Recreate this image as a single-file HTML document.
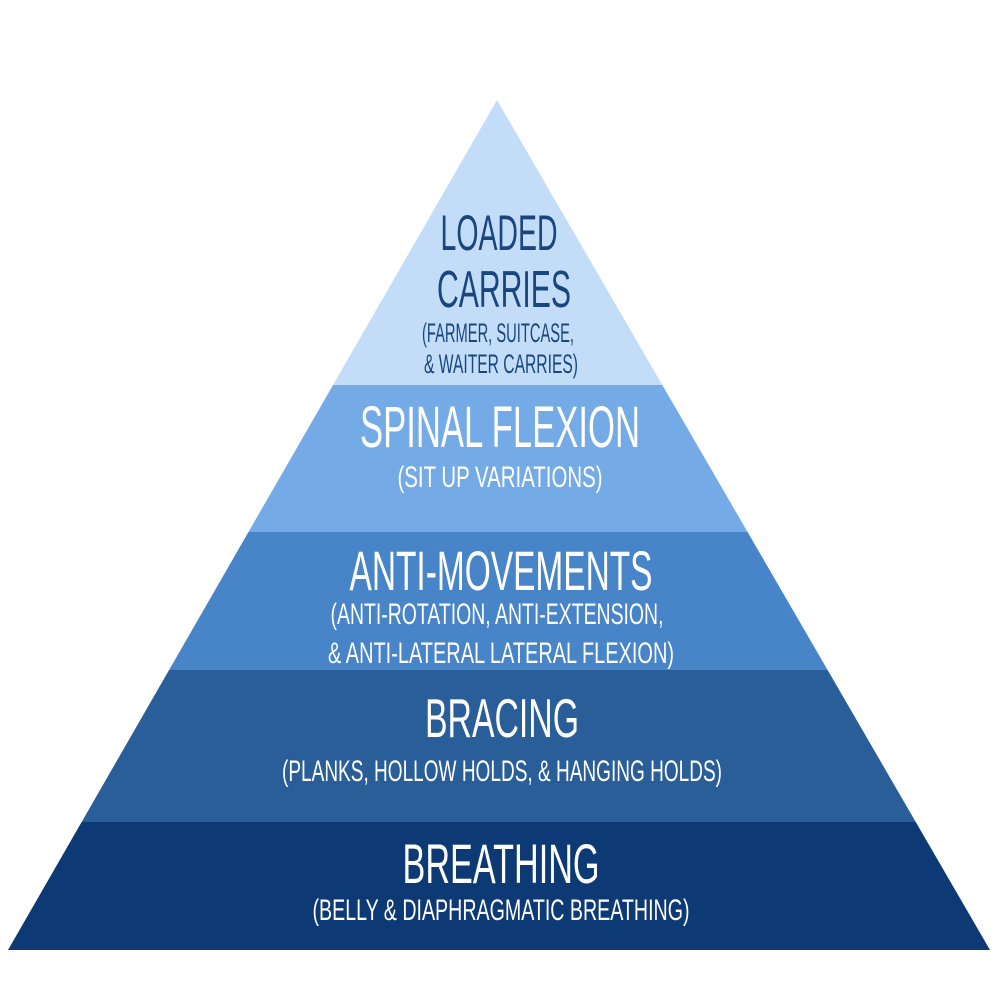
<!DOCTYPE html>
<html><head><meta charset="utf-8"><style>
html,body{margin:0;padding:0;background:#fff;}
svg{display:block}
text{font-family:"Liberation Sans",sans-serif;text-anchor:middle}
</style></head><body>
<svg width="1000" height="1000" viewBox="0 0 1000 1000" xmlns="http://www.w3.org/2000/svg">
<defs><clipPath id="tri"><polygon points="497,100 990,950 8,950"/></clipPath></defs>
<g clip-path="url(#tri)">
<rect x="0" y="90" width="1000" height="295" fill="#c3ddf9"/>
<rect x="0" y="385" width="1000" height="147" fill="#74abe7"/>
<rect x="0" y="532" width="1000" height="138" fill="#4784c8"/>
<rect x="0" y="670" width="1000" height="152" fill="#295e98"/>
<rect x="0" y="822" width="1000" height="130" fill="#0d3a75"/>
</g>
<g fill="#1a467f">
<text x="499" y="250" font-size="50" textLength="117" lengthAdjust="spacingAndGlyphs">LOADED</text>
<text x="504" y="307" font-size="52" textLength="134" lengthAdjust="spacingAndGlyphs">CARRIES</text>
<text x="498" y="342" font-size="27" textLength="152" lengthAdjust="spacingAndGlyphs">(FARMER, SUITCASE,</text>
<text x="501" y="373" font-size="27" textLength="154" lengthAdjust="spacingAndGlyphs">&amp; WAITER CARRIES)</text>
</g>
<g fill="#ffffff">
<text x="500" y="447" font-size="58" textLength="280" lengthAdjust="spacingAndGlyphs">SPINAL FLEXION</text>
<text x="500" y="487" font-size="30" textLength="205" lengthAdjust="spacingAndGlyphs">(SIT UP VARIATIONS)</text>
<text x="501" y="590" font-size="56" textLength="303" lengthAdjust="spacingAndGlyphs">ANTI-MOVEMENTS</text>
<text x="497" y="624" font-size="30" textLength="333" lengthAdjust="spacingAndGlyphs">(ANTI-ROTATION, ANTI-EXTENSION,</text>
<text x="501" y="663" font-size="30" textLength="346" lengthAdjust="spacingAndGlyphs">&amp; ANTI-LATERAL LATERAL FLEXION)</text>
<text x="502" y="737" font-size="55" textLength="154" lengthAdjust="spacingAndGlyphs">BRACING</text>
<text x="502" y="781" font-size="30" textLength="440" lengthAdjust="spacingAndGlyphs">(PLANKS, HOLLOW HOLDS,  &amp; HANGING HOLDS)</text>
<text x="501" y="883" font-size="56" textLength="197" lengthAdjust="spacingAndGlyphs">BREATHING</text>
<text x="501" y="920" font-size="30" textLength="377" lengthAdjust="spacingAndGlyphs">(BELLY &amp; DIAPHRAGMATIC BREATHING)</text>
</g>
</svg>
</body></html>
